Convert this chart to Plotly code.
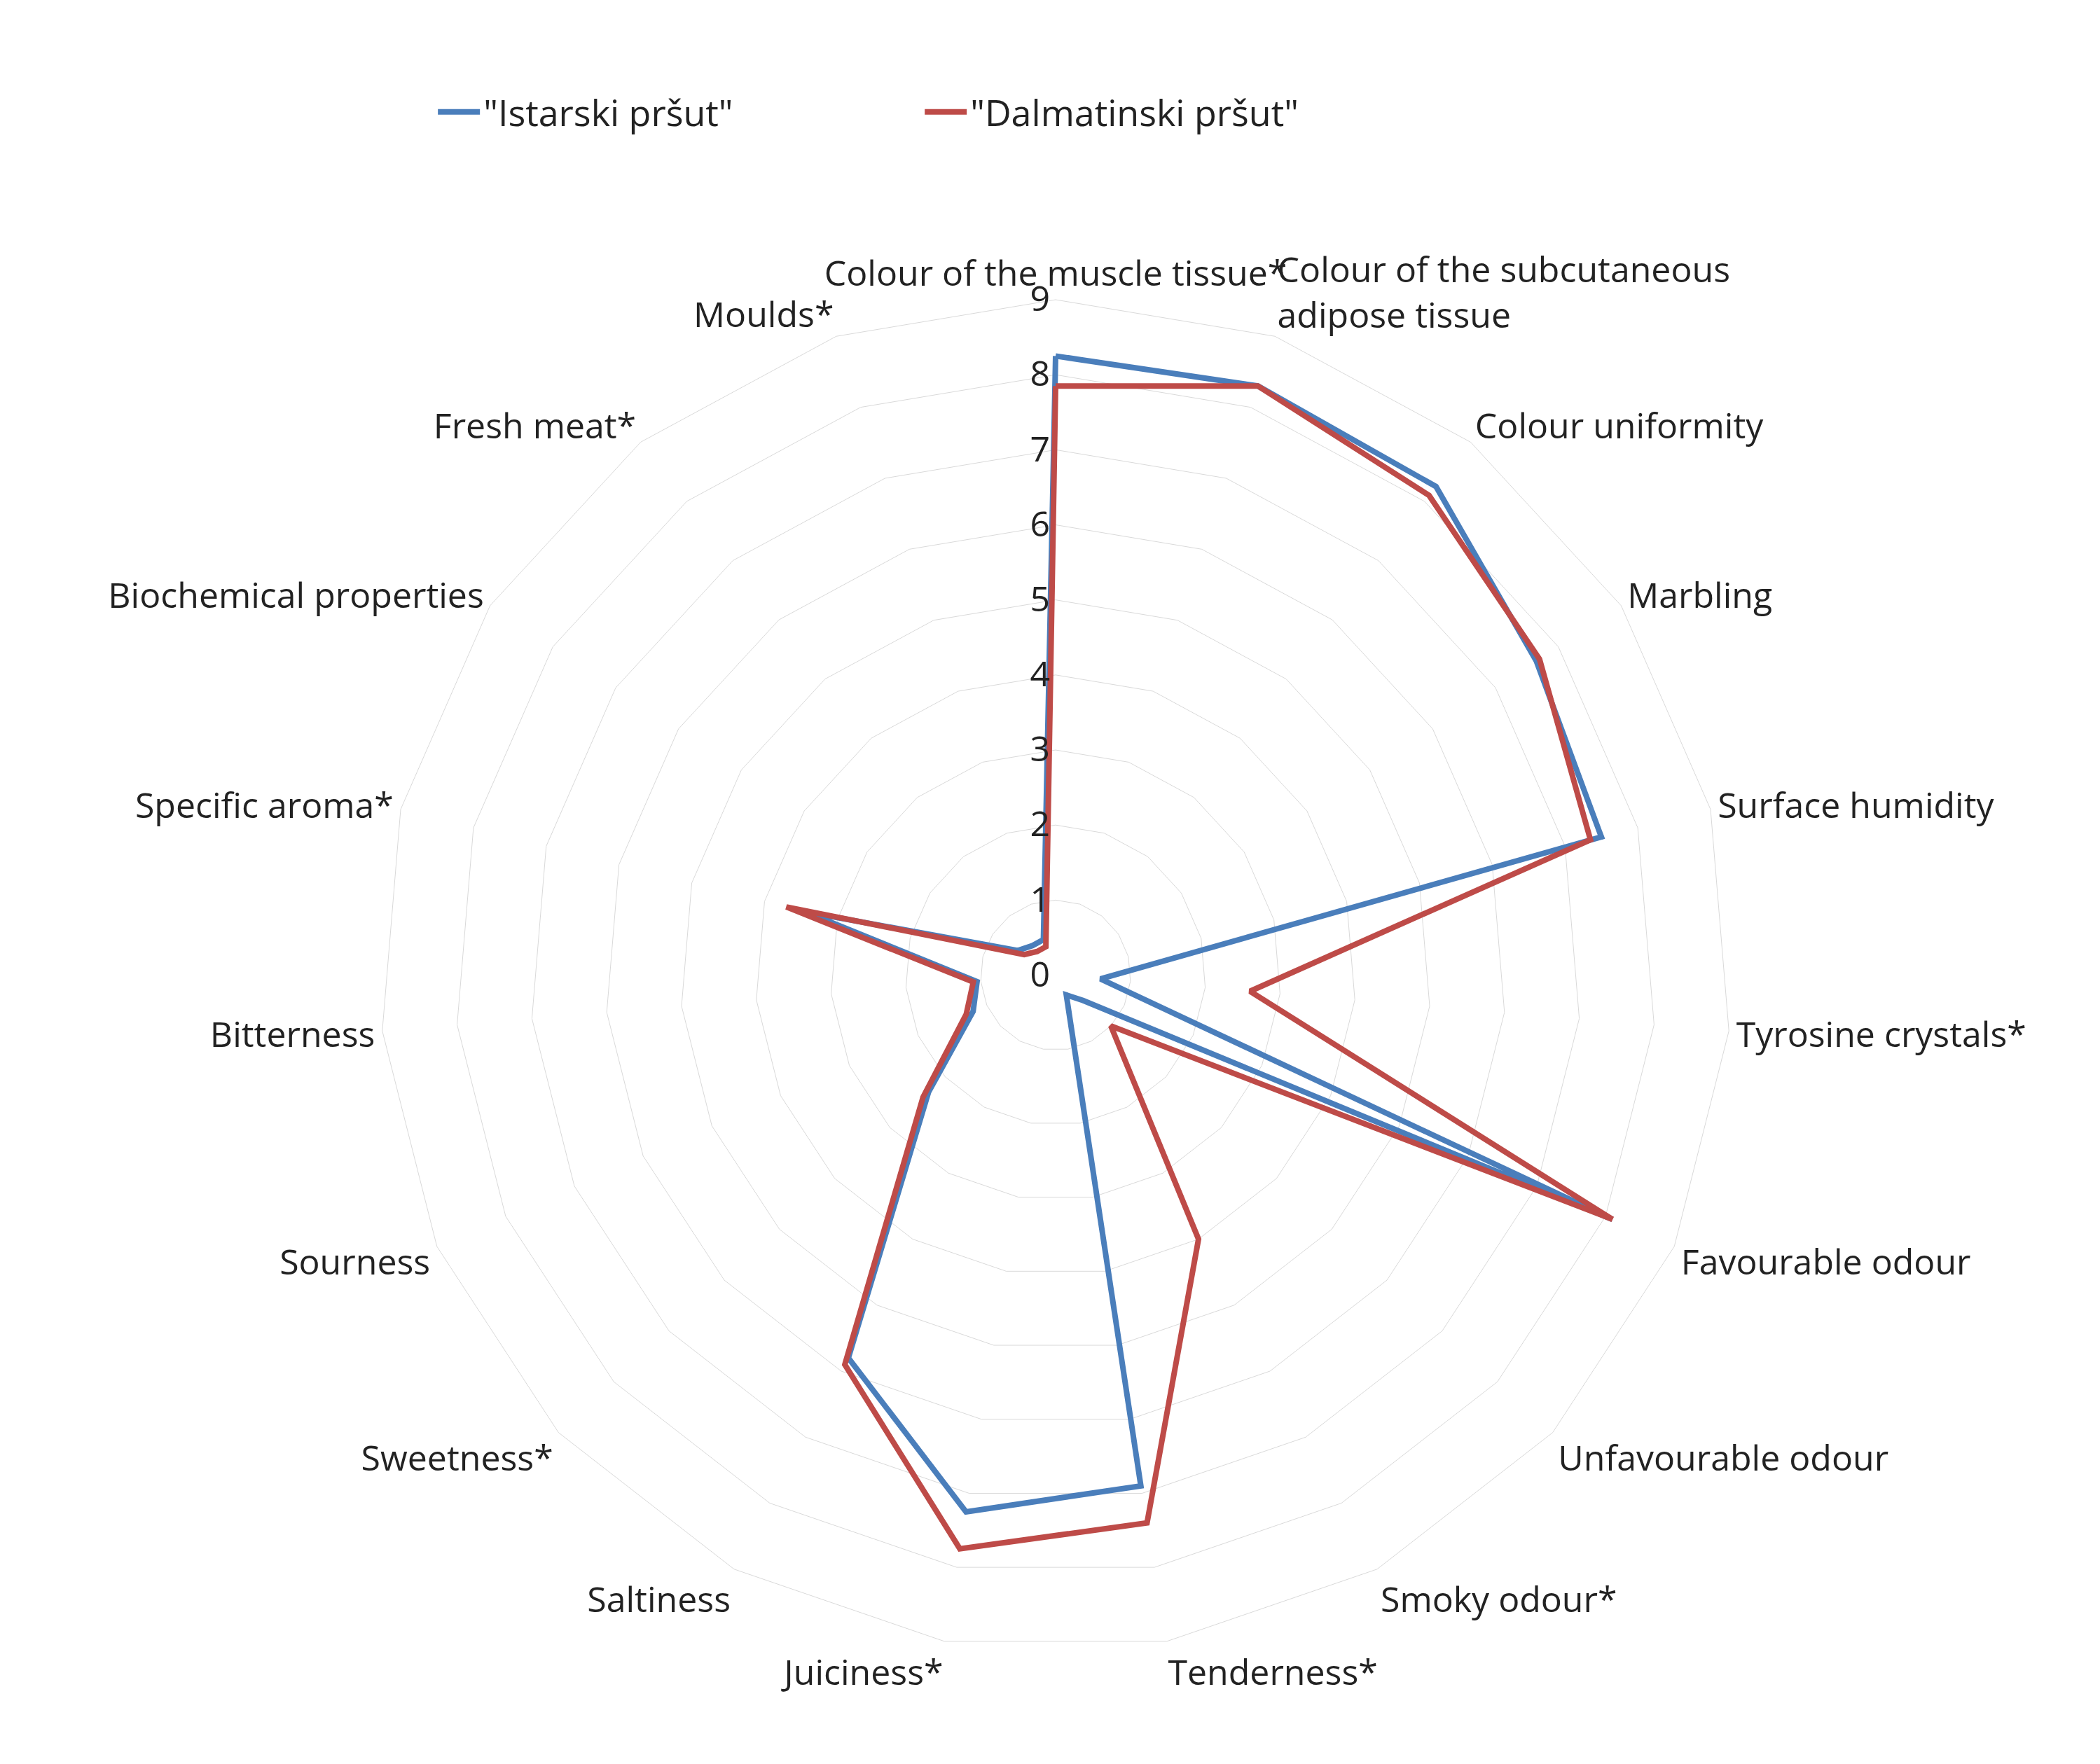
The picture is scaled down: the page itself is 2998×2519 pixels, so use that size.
import plotly.graph_objects as go

categories = ["Colour of the muscle tissue*", "Colour of the subcutaneous<br>adipose tissue",
              "Colour uniformity", "Marbling", "Surface humidity", "Tyrosine crystals*",
              "Favourable odour", "Unfavourable odour", "Smoky odour*", "Tenderness*",
              "Juiciness*", "Saltiness", "Sweetness*", "Sourness", "Bitterness",
              "Specific aroma*", "Biochemical properties", "Fresh meat*", "Moulds*"]
istarski = [8.25, 8.3, 8.25, 7.65, 7.5, 0.6, 8.1, 0.5, 0.3, 6.9, 7.25, 5.8, 2.3, 1.2, 1.05, 3.45, 0.6, 0.5, 0.5]
dalmatinski = [7.85, 8.3, 8.1, 7.7, 7.35, 2.6, 8.1, 1.0, 4.0, 7.4, 7.75, 5.9, 2.4, 1.3, 1.1, 3.7, 0.5, 0.4, 0.4]
tick_vals = [0, 1, 2, 3, 4, 5, 6, 7, 8, 9]

fig = go.Figure()
fig.add_trace(go.Scatterpolar(r=istarski + istarski[:1], theta=categories + categories[:1],
                              mode="lines", name='"Istarski pršut"',
                              line=dict(color="#4A7EBB", width=8)))
fig.add_trace(go.Scatterpolar(r=dalmatinski + dalmatinski[:1], theta=categories + categories[:1],
                              mode="lines", name='"Dalmatinski pršut"',
                              line=dict(color="#BE4B48", width=8)))
fig.update_layout(
    width=2998, height=2519, paper_bgcolor="white",
    font=dict(family="Open Sans", size=50, color="#222"),
    margin=dict(l=300, r=300, t=420, b=170),
    legend=dict(orientation="h", x=0.42, xanchor="center", y=1.16, yanchor="top",
                font=dict(size=52), entrywidth=620, itemwidth=60),
    polar=dict(
        bgcolor="white",
        gridshape="linear",
        domain=dict(x=[0.0, 1.0], y=[0.0, 1.0]),
        angularaxis=dict(rotation=90, direction="clockwise", showline=True,
                         linecolor="#d9d9d9", showgrid=False, ticks="",
                         tickfont=dict(size=50)),
        radialaxis=dict(range=[0, 9], tickvals=tick_vals, angle=90, tickangle=90,
                        side="counterclockwise",
                        showline=False, gridcolor="#d9d9d9", ticks="",
                        tickfont=dict(size=50)),
    ),
)
fig.write_html("out.html")
